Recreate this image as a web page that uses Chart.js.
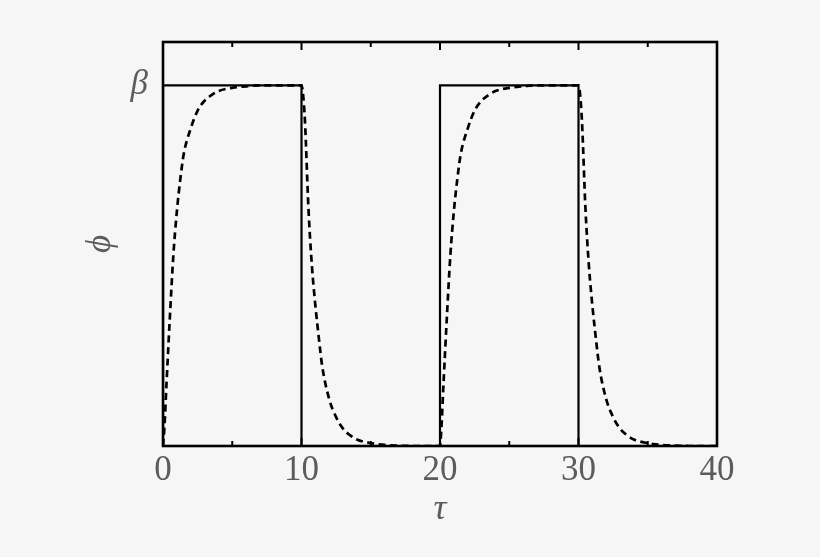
<!DOCTYPE html>
<html>
<head>
<meta charset="utf-8">
<script src="https://cdn.jsdelivr.net/npm/chart.js@4.4.0/dist/chart.umd.min.js"></script>
<style>
  html, body { margin: 0; padding: 0; background: #f6f6f6; }
  #wrap { width: 820px; height: 557px; }
</style>
</head>
<body>
<div id="wrap"><canvas id="chart"></canvas></div>
<script>
// input: square pulse between 0 and beta
const inputT   = [0, 0, 10, 10, 20, 20, 30, 30, 40];
const inputPhi = [0, 1, 1, 0, 0, 1, 1, 0, 0];

// response (dashed)
const responseT = [
  0, 0.1, 0.25, 0.5, 0.75, 1.0, 1.25, 1.5, 2.0, 2.5, 3.0, 3.5, 4.0, 5.0, 6.0, 7.0, 10.0,
  10.1, 10.25, 10.5, 10.75, 11.0, 11.25, 11.5, 12.0, 12.5, 13.0, 13.5, 14.0, 15.0, 16.0, 17.0, 18.0, 20.0,
  20.1, 20.25, 20.5, 20.75, 21.0, 21.25, 21.5, 22.0, 22.5, 23.0, 23.5, 24.0, 25.0, 26.0, 27.0, 30.0,
  30.1, 30.25, 30.5, 30.75, 31.0, 31.25, 31.5, 32.0, 32.5, 33.0, 33.5, 34.0, 35.0, 36.0, 37.0, 38.0, 40.0
];
const responsePhi = [
  0, 0.05, 0.17, 0.36, 0.53, 0.65, 0.74, 0.81, 0.88, 0.93, 0.957, 0.973, 0.984, 0.993, 0.997, 1.0, 1.0,
  0.98, 0.90, 0.66, 0.50, 0.39, 0.30, 0.22, 0.13, 0.08, 0.048, 0.03, 0.018, 0.008, 0.003, 0.001, 0, 0,
  0.05, 0.17, 0.36, 0.53, 0.65, 0.74, 0.81, 0.88, 0.93, 0.957, 0.973, 0.984, 0.993, 0.997, 1.0, 1.0,
  0.98, 0.90, 0.66, 0.50, 0.39, 0.30, 0.22, 0.13, 0.08, 0.048, 0.03, 0.018, 0.008, 0.003, 0.001, 0, 0
];

const xMajorTicks = [0, 10, 20, 30, 40];
const xMinorTicks = [5, 15, 25, 35];
const yTickValues = [1];
const yTickLabels = ["β"];

const textColor = "#5c5c5c";
const serif = "'Liberation Serif', 'DejaVu Serif', serif";

const toPoints = (xs, ys) => xs.map((x, i) => ({ x: x, y: ys[i] }));

// box round the plot plus inward ticks on bottom and top
const framePlugin = {
  id: "frame",
  afterDraw(chart) {
    const { ctx, chartArea } = chart;
    const xs = chart.scales.x;
    ctx.save();
    ctx.strokeStyle = "#000";
    ctx.lineWidth = 2.6;
    ctx.strokeRect(chartArea.left, chartArea.top,
                   chartArea.right - chartArea.left, chartArea.bottom - chartArea.top);
    ctx.lineWidth = 2;
    const tick = (v, len) => {
      const px = xs.getPixelForValue(v);
      ctx.beginPath();
      ctx.moveTo(px, chartArea.bottom);
      ctx.lineTo(px, chartArea.bottom - len);
      ctx.moveTo(px, chartArea.top);
      ctx.lineTo(px, chartArea.top + len);
      ctx.stroke();
    };
    xMajorTicks.forEach(v => tick(v, 8));
    xMinorTicks.forEach(v => tick(v, 5));
    ctx.restore();
  }
};

new Chart(document.getElementById("chart"), {
  type: "scatter",
  data: {
    datasets: [
      {
        label: "input",
        data: toPoints(inputT, inputPhi),
        showLine: true,
        borderColor: "#000",
        borderWidth: 2.2,
        pointRadius: 0,
        tension: 0
      },
      {
        label: "response",
        data: toPoints(responseT, responsePhi),
        showLine: true,
        borderColor: "#000",
        borderWidth: 2.7,
        borderDash: [7, 4.5],
        pointRadius: 0,
        cubicInterpolationMode: "monotone"
      }
    ]
  },
  options: {
    responsive: true,
    maintainAspectRatio: false,
    animation: false,
    layout: { padding: { top: 42, right: 103, left: 0, bottom: 0 } },
    plugins: { legend: { display: false }, tooltip: { enabled: false } },
    scales: {
      x: {
        type: "linear",
        min: 0,
        max: 40,
        afterBuildTicks: s => { s.ticks = xMajorTicks.map(v => ({ value: v })); },
        afterFit: s => { s.height = 111; },
        grid: { display: false, drawTicks: false },
        border: { display: false },
        ticks: {
          padding: 4,
          color: textColor,
          font: { family: serif, size: 35 }
        },
        title: {
          display: true,
          text: "τ",
          color: textColor,
          font: { family: serif, size: 36, style: "italic" },
          padding: { bottom: 26 }
        }
      },
      y: {
        min: 0,
        max: 1.12,
        afterBuildTicks: s => { s.ticks = yTickValues.map(v => ({ value: v })); },
        afterFit: s => { s.width = 163; },
        grid: { display: false, drawTicks: false },
        border: { display: false },
        ticks: {
          padding: 15,
          color: textColor,
          font: { family: serif, size: 35, style: "italic" },
          callback: v => yTickLabels[yTickValues.indexOf(v)] ?? ""
        },
        title: {
          display: true,
          text: "ϕ",
          color: textColor,
          font: { family: serif, size: 35, style: "italic" },
          padding: { top: 80 }
        }
      }
    }
  },
  plugins: [framePlugin]
});
</script>
</body>
</html>
